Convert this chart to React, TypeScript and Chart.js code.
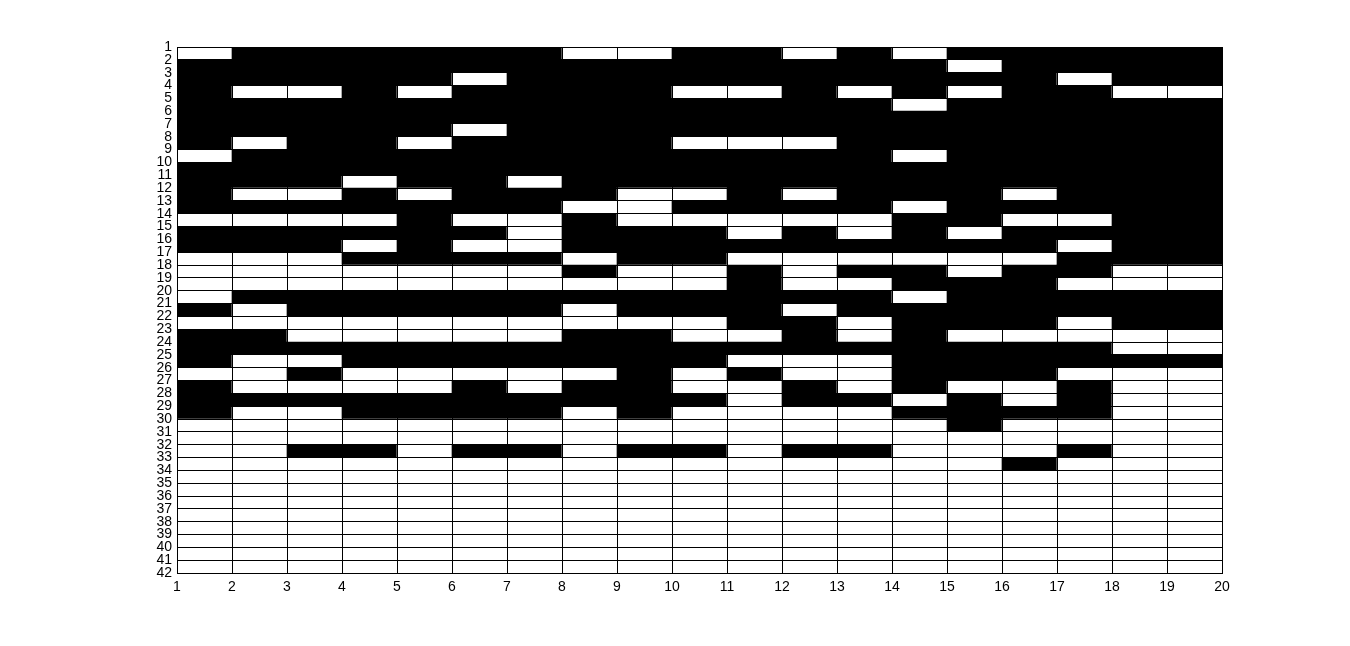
import React, { useEffect, useRef } from 'react';
import { Chart, registerables } from 'chart.js';

Chart.register(...registerables);

// Column edges (x axis ticks) and row edges (y axis ticks)
const xTicks: number[] = [1, 2, 3, 4, 5, 6, 7, 8, 9, 10, 11, 12, 13, 14, 15, 16, 17, 18, 19, 20];
const yTicks: number[] = [
  1, 2, 3, 4, 5, 6, 7, 8, 9, 10, 11, 12, 13, 14, 15, 16, 17, 18, 19, 20, 21,
  22, 23, 24, 25, 26, 27, 28, 29, 30, 31, 32, 33, 34, 35, 36, 37, 38, 39, 40, 41, 42,
];

// Cell values: one string per row (row 1 at top), one char per column; '1' = white, '0' = black
const cellRows: string[] = [
  '1000000110010100000', // 1
  '0000000000000010000', // 2
  '0000010000000000100', // 3
  '0110100001101010011', // 4
  '0000000000000100000', // 5
  '0000000000000000000', // 6
  '0000010000000000000', // 7
  '0100100001110000000', // 8
  '1000000000000100000', // 9
  '0000000000000000000', // 10
  '0001001000000000000', // 11
  '0110100011010001000', // 12
  '0000000110000100000', // 13
  '1111011011111001100', // 14
  '0000001000101010000', // 15
  '0001011000000000100', // 16
  '1110000100111111000', // 17
  '1111111011010010011', // 18
  '1111111111011000111', // 19
  '1000000000000100000', // 20
  '0100000100010000000', // 21
  '1111111111001000100', // 22
  '0011111001101011111', // 23
  '0000000000000000011', // 24
  '0110000000111000000', // 25
  '1101111101011000111', // 26
  '0111101001101011011', // 27
  '0000000000100101011', // 28
  '0110000101111000011', // 29
  '1111111111111101111', // 30
  '1111111111111111111', // 31
  '1100100100100111011', // 32
  '1111111111111110111', // 33
  '1111111111111111111', // 34
  '1111111111111111111', // 35
  '1111111111111111111', // 36
  '1111111111111111111', // 37
  '1111111111111111111', // 38
  '1111111111111111111', // 39
  '1111111111111111111', // 40
  '1111111111111111111', // 41
];

const WHITE = '#ffffff';
const BLACK = '#000000';
const tickFont = { family: "'Liberation Sans', Arial, sans-serif", size: 14 };

export default function App() {
  const ref = useRef<HTMLCanvasElement>(null);

  useEffect(() => {
    document.body.style.margin = '0';
    const points: any[] = [];
    const colors: string[] = [];
    cellRows.forEach((row, ri) => {
      row.split('').forEach((ch, ci) => {
        points.push({ y: (yTicks[ri] + yTicks[ri + 1]) / 2, x: [xTicks[ci], xTicks[ci + 1]] });
        colors.push(ch === '1' ? WHITE : BLACK);
      });
    });

    const chart = new Chart(ref.current as HTMLCanvasElement, {
      type: 'bar',
      data: {
        datasets: [
          {
            data: points,
            backgroundColor: colors,
            borderWidth: 0,
            categoryPercentage: 1,
            barPercentage: 1,
            grouped: false,
          } as any,
        ],
      },
      options: {
        indexAxis: 'y',
        responsive: false,
        animation: false,
        layout: { padding: { top: 47, right: 128, bottom: 0, left: 0 } },
        plugins: { legend: { display: false }, tooltip: { enabled: false } },
        scales: {
          x: {
            type: 'linear',
            offset: false,
            min: xTicks[0],
            max: xTicks[xTicks.length - 1],
            afterFit: (s: any) => { s.height = 73; },
            afterBuildTicks: (s: any) => { s.ticks = xTicks.map((v) => ({ value: v })); },
            ticks: { autoSkip: false, padding: 6, maxRotation: 0, color: '#000', font: tickFont },
            grid: { color: '#000', lineWidth: 1, drawTicks: false, offset: false, z: 1 },
            border: { display: true, color: '#000', width: 1, z: 1 },
          },
          y: {
            type: 'linear',
            offset: false,
            reverse: true,
            min: yTicks[0],
            max: yTicks[yTicks.length - 1],
            afterFit: (s: any) => { s.width = 177; },
            afterBuildTicks: (s: any) => { s.ticks = yTicks.map((v) => ({ value: v })); },
            ticks: { autoSkip: false, padding: 5, color: '#000', font: tickFont },
            grid: { color: '#000', lineWidth: 1, drawTicks: false, offset: false, z: 1 },
            border: { display: true, color: '#000', width: 1, z: 1 },
          },
        },
      } as any,
    });
    return () => chart.destroy();
  }, []);

  return (
    <div style={{ width: 1350, height: 646, background: '#fff' }}>
      <canvas ref={ref} width={1350} height={646} style={{ display: 'block' }} />
    </div>
  );
}
